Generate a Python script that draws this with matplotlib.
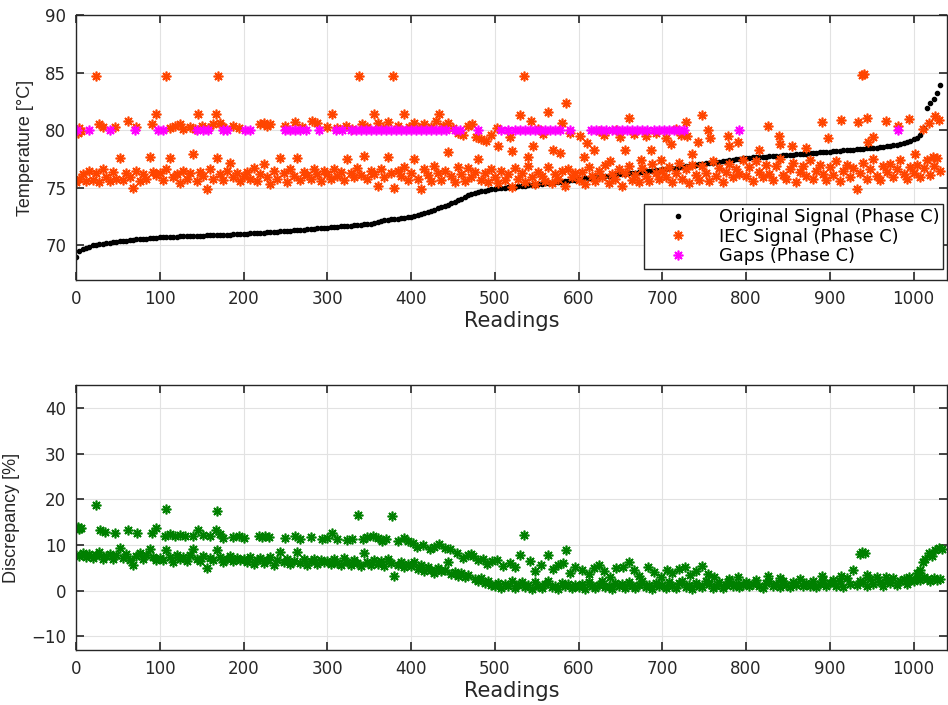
import matplotlib
matplotlib.use('Agg')
import matplotlib.pyplot as plt
import numpy as np

plt.rcParams['font.family'] = 'DejaVu Sans'

STEP = 4  # readings between stored samples of the dense series

# original temperature, sorted (every 4th reading)
orig = [
    69.0, 69.5, 69.65, 69.75, 69.9, 70.0, 70.05, 70.1, 70.15, 70.2, 70.25, 70.3, 70.33,
    70.36, 70.4, 70.43, 70.46, 70.5, 70.52, 70.55, 70.58, 70.6, 70.62, 70.65, 70.68,
    70.7, 70.71, 70.72, 70.74, 70.75, 70.76, 70.78, 70.79, 70.8, 70.82, 70.83, 70.84,
    70.85, 70.86, 70.87, 70.88, 70.89, 70.9, 70.92, 70.93, 70.94, 70.95, 70.96, 70.98, 70.99,
    71.0, 71.02, 71.04, 71.06, 71.08, 71.1, 71.12, 71.14, 71.16, 71.18, 71.2, 71.22, 71.24,
    71.26, 71.28, 71.31, 71.33, 71.36, 71.38, 71.41, 71.43, 71.46, 71.48, 71.5, 71.53,
    71.55, 71.57, 71.6, 71.62, 71.65, 71.67, 71.7, 71.72, 71.75, 71.77, 71.8, 71.82, 71.84,
    71.88, 71.95, 72.05, 72.12, 72.18, 72.22, 72.26, 72.3, 72.33, 72.37, 72.41, 72.45,
    72.5, 72.57, 72.65, 72.73, 72.82, 72.9, 73.0, 73.12, 73.23, 73.35, 73.45, 73.55, 73.65,
    73.78, 73.92, 74.05, 74.2, 74.35, 74.45, 74.55, 74.62, 74.7, 74.76, 74.82, 74.87,
    74.92, 74.96, 75.0, 75.02, 75.05, 75.08, 75.1, 75.13, 75.16, 75.19, 75.22, 75.25, 75.28,
    75.31, 75.34, 75.38, 75.41, 75.45, 75.48, 75.52, 75.55, 75.59, 75.63, 75.67, 75.71,
    75.75, 75.79, 75.82, 75.85, 75.89, 75.92, 75.96, 75.99, 76.03, 76.06, 76.1, 76.13, 76.16,
    76.2, 76.23, 76.27, 76.3, 76.33, 76.37, 76.4, 76.44, 76.47, 76.5, 76.53, 76.57,
    76.6, 76.64, 76.68, 76.72, 76.76, 76.8, 76.84, 76.88, 76.92, 76.96, 77.0, 77.04, 77.08,
    77.12, 77.16, 77.2, 77.24, 77.28, 77.32, 77.36, 77.4, 77.44, 77.48, 77.52, 77.56,
    77.6, 77.62, 77.64, 77.66, 77.68, 77.7, 77.72, 77.74, 77.76, 77.78, 77.8, 77.82, 77.84,
    77.86, 77.88, 77.9, 77.92, 77.95, 77.97, 78.0, 78.02, 78.05, 78.07, 78.1, 78.12,
    78.15, 78.17, 78.2, 78.22, 78.25, 78.27, 78.3, 78.32, 78.35, 78.37, 78.4, 78.42, 78.45,
    78.47, 78.5, 78.53, 78.56, 78.6, 78.64, 78.68, 78.75, 78.83, 78.92, 79.0, 79.1,
    79.2, 79.35, 79.6, 80.2, 81.9, 82.4, 82.7, 83.2, 83.9,
]

# IEC signal, main band (same readings as orig)
iec = [
    75.5, 75.8, 76.2, 75.6, 76.5, 75.7, 76.3, 75.5, 76.6, 75.9, 75.6, 76.4, 75.8, 77.6, 75.7, 76.3, 75.9, 75.0, 76.5, 75.6, 76.2, 75.8, 77.7, 76.4, 76.1,
    76.3, 75.7, 76.6, 77.6, 75.9, 76.2, 75.4, 76.5, 75.8, 76.3, 77.9, 75.6, 76.4, 76.0, 74.9, 76.6, 75.8, 77.6, 76.2, 75.7, 76.5, 77.2, 75.9, 76.3, 75.6,
    76.0, 76.4, 75.8, 76.7, 75.6, 76.2, 77.1, 75.9, 75.3, 76.5, 75.8, 77.6, 76.3, 75.5, 76.6, 76.0, 77.6, 75.7, 76.4, 76.1, 75.8, 76.6, 76.2, 75.6, 76.5,
    76.2, 75.8, 76.6, 76.0, 76.4, 75.7, 77.5, 76.3, 75.9, 76.7, 76.1, 77.8, 75.8, 76.5, 76.2, 75.2, 76.6, 75.9, 77.7, 76.3, 75.0, 76.5, 76.0, 76.8, 75.7,
    76.3, 77.5, 75.8, 74.9, 76.6, 76.1, 75.6, 76.9, 76.3, 75.7, 76.5, 78.1, 76.0, 75.5, 76.8, 76.2, 75.6, 76.7, 75.9, 76.4, 77.5, 75.7, 76.3, 75.5, 76.6,
    75.9, 75.4, 76.5, 75.7, 76.2, 75.1, 76.7, 75.8, 76.3, 75.5, 76.9, 75.9, 75.3, 76.4, 76.0, 75.6, 76.8, 75.4, 76.2, 75.8, 76.5, 75.2, 76.6, 75.9, 76.3,
    75.7, 76.4, 75.3, 76.8, 76.0, 75.6, 76.5, 75.9, 77.0, 75.4, 76.2, 75.8, 76.6, 75.2, 76.3, 76.9, 75.7, 76.1, 75.5, 76.7, 76.0, 75.6, 77.1, 76.3, 75.8,
    76.5, 75.9, 76.8, 75.5, 76.3, 77.2, 75.8, 76.6, 75.4, 77.0, 76.1, 75.7, 76.9, 76.3, 75.6, 77.3, 76.0, 76.7, 75.5, 76.4, 77.1, 75.9, 76.6, 76.2, 77.4,
    76.0, 76.8, 75.6, 77.3, 76.4, 75.9, 77.0, 76.2, 75.7, 76.9, 77.5, 76.1, 75.8, 76.6, 77.2, 75.5, 76.4, 76.9, 76.0, 77.4, 75.8, 76.5, 77.0, 76.2, 75.7,
    76.8, 76.1, 77.3, 75.6, 76.5, 77.0, 75.9, 76.7, 74.9, 76.3, 77.2, 75.8, 76.6, 77.5, 76.0, 75.7, 76.9, 76.4, 77.1, 75.9, 76.6, 77.4, 76.2, 75.8, 76.8,
    76.3, 77.0, 75.9, 76.7, 77.4, 76.1, 76.9, 77.6, 76.5,
]

# IEC signal, upper band and scattered readings: (reading, temperature)
iec_extra = [
    (0, 80.0), (2, 79.8), (4, 80.2), (6, 79.9), (24, 84.7), (28, 80.5), (32, 80.3), (47, 80.3),
    (62, 80.8), (72, 80.3), (91, 80.5), (96, 81.4), (108, 84.7), (112, 80.2), (118, 80.4),
    (124, 80.5), (128, 80.1), (136, 80.3), (142, 80.1), (146, 81.4), (150, 80.4), (158, 80.2),
    (164, 80.5), (167, 81.4), (170, 84.7), (172, 80.6), (176, 80.3), (188, 80.4), (194, 80.2),
    (220, 80.5), (224, 80.6), (228, 80.4), (232, 80.5), (250, 80.4), (262, 80.7), (270, 80.3),
    (282, 80.8), (288, 80.6), (300, 80.3), (306, 81.4), (312, 80.2), (322, 80.4), (330, 80.1),
    (338, 84.7), (342, 80.5), (348, 80.3), (356, 81.4), (360, 80.6), (366, 80.2), (372, 80.7),
    (378, 84.7), (384, 80.4), (392, 81.4), (398, 80.3), (404, 80.6), (410, 80.2), (416, 80.5),
    (424, 80.3), (430, 80.8), (433, 81.4), (438, 80.4), (444, 80.6), (450, 80.2), (456, 79.8),
    (462, 79.6), (468, 80.4), (473, 80.5), (478, 79.4), (484, 79.2), (489, 79.1), (496, 79.6),
    (503, 80.2), (504, 78.6), (518, 79.4), (521, 78.2), (530, 81.3), (535, 84.7), (540, 77.7),
    (543, 80.8), (546, 78.6), (552, 80.1), (558, 79.7), (564, 81.6), (570, 78.3), (578, 78.0),
    (580, 80.6), (585, 82.4), (590, 79.8), (602, 79.5), (606, 77.7), (610, 78.9), (618, 78.3),
    (624, 79.9), (630, 79.6), (638, 77.3), (645, 80.0), (650, 79.4), (656, 78.3), (660, 81.1),
    (666, 79.7), (674, 77.4), (680, 79.5), (686, 78.3), (692, 79.8), (698, 77.4), (704, 79.3),
    (710, 78.8), (716, 80.1), (722, 79.6), (728, 80.7), (730, 79.5), (736, 77.9), (743, 79.0),
    (748, 81.3), (755, 80.0), (757, 79.3), (778, 79.5), (780, 78.6), (790, 79.0), (816, 78.3),
    (826, 80.4), (839, 79.5), (840, 78.8), (855, 78.6), (871, 78.5), (891, 80.7), (898, 79.3),
    (913, 80.9), (934, 80.7), (938, 84.8), (941, 84.9), (945, 81.1), (946, 79.0), (951, 79.4),
    (967, 80.8), (982, 80.4), (994, 81.0), (1002, 77.9), (1011, 80.1), (1018, 80.6),
    (1023, 77.7), (1026, 81.2), (1030, 80.9),
]

# readings flagged as gaps, shown at the gap level
gap_x = [
    1, 15, 40, 70, 98, 104, 144, 152, 158, 176, 180, 202, 208, 250, 256, 262, 268, 274, 290,
    310, 318, 328, 334, 340, 346, 352, 358, 364, 370, 376, 382, 388, 394, 400, 406, 412, 418,
    424, 430, 436, 442, 452, 458, 480, 508, 516, 524, 530, 536, 542, 548, 554, 560, 566, 572,
    578, 590, 615, 621, 627, 633, 640, 646, 652, 658, 664, 670, 676, 682, 690, 696, 702, 708,
    714, 720, 726, 791, 982,
]
gap_level = 80.0

# discrepancy [%], main band (same readings as orig)
disc = [
    7.9, 7.6, 8.3, 7.3, 8.0, 7.1, 7.7, 8.4, 6.9, 7.5, 8.1, 7.0, 7.8, 9.4, 7.2, 8.0, 6.8, 5.5, 7.6, 8.2, 7.0, 7.7, 9.2, 7.3, 6.8,
    7.2, 6.6, 8.9, 7.4, 6.3, 7.7, 6.9, 7.3, 6.5, 7.8, 9.1, 7.0, 6.4, 7.5, 5.0, 7.1, 6.6, 8.9, 7.4, 6.2, 7.0, 7.6, 6.5, 7.2, 6.8,
    6.9, 6.3, 7.4, 5.9, 6.7, 7.1, 6.0, 6.6, 7.3, 5.6, 6.8, 8.4, 6.2, 7.0, 5.8, 6.5, 8.4, 6.1, 6.9, 5.7, 6.4, 7.0, 5.9, 6.6, 6.2,
    6.5, 5.8, 6.9, 6.1, 5.5, 7.2, 6.3, 5.7, 6.7, 6.0, 5.4, 8.3, 6.2, 5.6, 6.8, 5.9, 6.4, 5.3, 7.0, 6.0, 3.3, 5.7, 6.3, 5.2, 5.9,
    5.4, 6.3, 4.8, 5.6, 4.4, 5.1, 4.6, 3.9, 5.0, 4.2, 4.5, 6.3, 3.7, 4.1, 3.3, 3.8, 2.9, 3.4, 8.1, 2.6, 2.0, 2.7, 1.6, 2.2, 1.2,
    1.0, 1.7, 0.6, 1.4, 0.9, 2.0, 0.5, 1.2, 1.8, 0.7, 1.3, 0.4, 1.9, 1.0, 0.6, 1.5, 2.2, 0.8, 1.1, 0.3, 1.6, 0.9, 1.4, 0.5, 1.2,
    0.8, 1.5, 0.4, 1.9, 1.0, 0.6, 1.3, 2.1, 0.7, 1.1, 0.3, 1.6, 0.9, 1.4, 0.5, 1.8, 1.0, 0.6, 1.3, 2.0, 0.8, 1.2, 0.4, 1.7, 1.0,
    1.3, 0.6, 1.9, 1.0, 0.5, 1.6, 2.2, 0.8, 1.2, 0.4, 1.7, 1.1, 0.7, 2.0, 1.4, 0.6, 1.0, 1.8, 0.5, 1.3, 2.1, 0.9, 1.5, 0.7, 1.2,
    1.8, 0.9, 1.4, 2.4, 1.1, 0.6, 1.7, 2.2, 1.0, 1.5, 0.8, 2.0, 1.3, 0.7, 1.9, 1.2, 2.5, 0.9, 1.6, 1.1, 2.1, 0.8, 1.4, 2.3, 1.0,
    1.6, 2.4, 1.1, 2.0, 0.8, 2.7, 1.5, 4.6, 1.2, 2.2, 1.8, 0.9, 2.5, 1.4, 2.9, 1.9, 1.1, 2.3, 1.7, 2.8, 1.3, 2.1, 2.6, 1.5, 2.4,
    2.0, 2.7, 2.3, 2.9, 2.5, 2.2, 2.8, 2.4, 2.6,
]

# discrepancy [%], upper band and scattered readings: (reading, percent)
disc_extra = [
    (0, 13.6), (2, 14.0), (4, 13.4), (6, 13.8), (24, 18.8), (29, 13.3), (34, 12.9), (47, 12.7),
    (62, 13.3), (73, 12.6), (91, 12.7), (96, 13.8), (108, 17.9), (106, 12.0), (112, 12.3),
    (118, 11.9), (124, 12.2), (130, 12.0), (140, 12.0), (146, 13.3), (152, 12.1), (160, 11.9),
    (167, 13.2), (168, 17.5), (172, 12.4), (176, 11.6), (188, 11.8), (194, 12.0), (200, 11.6),
    (218, 11.9), (222, 11.8), (226, 12.0), (230, 11.7), (250, 11.6), (262, 11.9), (268, 11.4),
    (280, 11.8), (294, 11.3), (300, 11.6), (306, 12.5), (312, 11.2), (324, 11.1), (330, 11.4),
    (337, 16.6), (343, 11.3), (348, 11.7), (355, 12.0), (360, 11.5), (365, 10.8), (370, 11.2),
    (377, 16.3), (384, 10.9), (391, 11.6), (396, 10.8), (402, 10.4), (407, 9.6), (414, 10.0),
    (423, 9.0), (428, 9.6), (433, 10.1), (440, 9.4), (447, 9.0), (455, 8.2), (462, 7.2),
    (468, 7.8), (474, 7.6), (480, 6.6), (486, 7.0), (491, 5.9), (497, 6.4), (503, 6.8),
    (510, 5.3), (518, 6.1), (524, 5.2), (530, 7.9), (535, 12.2), (542, 6.4), (548, 4.3),
    (555, 5.6), (564, 7.7), (570, 4.8), (575, 5.7), (581, 6.1), (585, 8.9), (590, 3.8),
    (596, 5.2), (604, 4.5), (612, 3.6), (618, 5.0), (624, 5.5), (630, 4.2), (638, 3.0),
    (645, 4.9), (653, 5.1), (660, 6.3), (666, 4.5), (672, 3.2), (683, 5.1), (690, 4.0),
    (698, 2.9), (706, 4.6), (712, 3.8), (720, 4.8), (727, 5.1), (733, 3.4), (740, 4.2),
    (748, 5.3), (755, 3.6), (762, 2.9), (780, 2.6), (790, 3.0), (826, 3.1), (840, 2.8),
    (891, 3.2), (913, 3.3), (936, 8.0), (939, 8.4), (942, 8.2), (945, 3.5), (967, 3.0),
    (994, 3.0), (1004, 3.8), (1008, 4.6), (1011, 6.2), (1014, 7.0), (1018, 8.2), (1022, 7.6),
    (1026, 8.9), (1030, 9.4), (1034, 9.0),
]

readings = np.arange(len(orig)) * STEP

ORANGE = '#ff4500'
MAGENTA = '#ff00ff'
GREEN = '#008000'
DARK = '#262626'
STAR = (8, 2, 0)  # eight-spoke asterisk
STAR_KW = dict(ls='none', marker=STAR, ms=7, mew=1.2)


def style_axes(ax, ylim, yticks):
    ax.set_xlim(0, 1040)
    ax.set_ylim(*ylim)
    ax.set_xticks(range(0, 1001, 100))
    ax.set_yticks(yticks)
    ax.grid(True, color='#e2e2e2', lw=0.8)
    ax.set_axisbelow(True)
    ax.tick_params(direction='in', top=True, right=True, length=6, width=1.2,
                   colors=DARK, labelsize=12, pad=7)
    for s in ax.spines.values():
        s.set_color(DARK)
        s.set_linewidth(1.0)
    ax.set_xlabel('Readings', fontsize=15, color=DARK, labelpad=2)


fig = plt.figure(figsize=(9.48, 7.05), dpi=100)
ax1 = fig.add_axes([0.0802, 0.6028, 0.9188, 0.3759])
ax2 = fig.add_axes([0.0802, 0.0780, 0.9188, 0.3759])

# temperatures
ex, ey = zip(*iec_extra)
ax1.plot(readings, orig, ls='none', marker='.', ms=6, color='k',
         label='Original Signal (Phase C)')
ax1.plot(np.concatenate([readings, ex]), np.concatenate([iec, ey]), color=ORANGE,
         label='IEC Signal (Phase C)', **STAR_KW)
ax1.plot(gap_x, [gap_level] * len(gap_x), color=MAGENTA, label='Gaps (Phase C)', **STAR_KW)
style_axes(ax1, (67, 90), [70, 75, 80, 85, 90])
ax1.set_ylabel('Temperature [°C]', family='Liberation Sans', fontsize=13, color=DARK, labelpad=8)

leg = ax1.legend(loc='lower right', bbox_to_anchor=(0.9954, 0.0415), borderaxespad=0,
                 fontsize=12.8, handlelength=3.4, handletextpad=0.6, labelspacing=0.1,
                 borderpad=0.2, fancybox=False, framealpha=1, edgecolor=DARK)
leg.get_frame().set_linewidth(1.0)

# discrepancy
dx, dy = zip(*disc_extra)
ax2.plot(np.concatenate([readings, dx]), np.concatenate([disc, dy]), color=GREEN, **STAR_KW)
style_axes(ax2, (-13, 45), [-10, 0, 10, 20, 30, 40])
ax2.set_ylabel('Discrepancy [%]', family='Liberation Sans', fontsize=13, color=DARK, labelpad=8)

fig.savefig('out.png', dpi=100)
